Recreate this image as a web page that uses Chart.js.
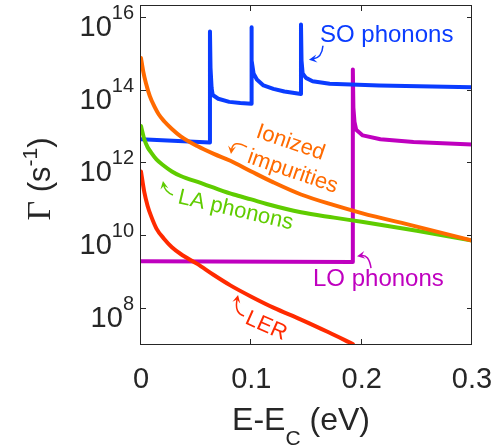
<!DOCTYPE html>
<html>
<head>
<meta charset="utf-8">
<script src="https://cdn.jsdelivr.net/npm/chart.js@4.4.1/dist/chart.umd.min.js"></script>
<style>
  html, body { margin: 0; padding: 0; background: #fff; }
</style>
</head>
<body>
<canvas id="chart-area" width="504" height="448"></canvas>
<script>
  // energy above the band edge, E - E_C (eV), and scattering rates (1/s)
  var impX = [0, 0.002, 0.0045, 0.008, 0.012, 0.016, 0.021, 0.028, 0.036, 0.051, 0.066, 0.081, 0.1, 0.12, 0.145, 0.175, 0.2, 0.25, 0.3];
  var impRate = [7.4e14, 3.2e14, 1.5e14, 6.6e13, 3.5e13, 2.1e13, 1.35e13, 8.3e12, 5.2e12, 2.8e12, 1.7e12, 1.1e12, 5.6e11, 2.8e11, 1.3e11, 6.6e10, 4.0e10, 1.7e10, 7.0e9];

  var laX = [0, 0.003, 0.006, 0.009, 0.014, 0.021, 0.028, 0.036, 0.054, 0.066, 0.084, 0.1, 0.114, 0.145, 0.175, 0.2, 0.25, 0.3];
  var laRate = [1.0e13, 4.3e12, 2.6e12, 1.9e12, 1.2e12, 7.9e11, 5.6e11, 4.2e11, 2.7e11, 2.0e11, 1.3e11, 9.5e10, 7.1e10, 4.2e10, 3.0e10, 2.3e10, 1.3e10, 7.0e9];

  var lerX = [0, 0.003, 0.006, 0.009, 0.014, 0.021, 0.028, 0.036, 0.051, 0.066, 0.081, 0.1, 0.12, 0.145, 0.17, 0.192];
  var lerRate = [5.6e11, 1.5e11, 6.3e10, 3.4e10, 1.5e10, 7.8e9, 4.6e9, 3.0e9, 1.6e9, 7.9e8, 4.1e8, 2.0e8, 1.0e8, 4.7e7, 2.1e7, 1.0e7];

  var soX = [0, 0.0625, 0.0625, 0.063, 0.064, 0.065, 0.07, 0.08, 0.09, 0.1, 0.1, 0.1005, 0.102, 0.105, 0.111, 0.12, 0.13, 0.145, 0.145, 0.1455, 0.1465, 0.1495, 0.1555, 0.171, 0.216, 0.3];
  var soRate = [4.3e12, 3.5e12, 4.0e15, 4.0e14, 1.1e14, 7.1e13, 5.6e13, 4.6e13, 4.3e13, 4.1e13, 5.2e15, 6.3e14, 2.8e14, 1.9e14, 1.3e14, 1.05e14, 8.9e13, 7.6e13, 6.2e15, 6.3e14, 2.8e14, 2.1e14, 1.7e14, 1.45e14, 1.3e14, 1.17e14];

  var loX = [0, 0.192, 0.192, 0.1925, 0.1935, 0.195, 0.201, 0.217, 0.247, 0.3];
  var loRate = [1.9e9, 1.8e9, 3.6e14, 3.2e13, 1.3e13, 7.9e12, 5.5e12, 4.3e12, 3.6e12, 3.1e12];

  var xTicks = [0, 0.1, 0.2, 0.3];
  var yTicks = [1e8, 1e10, 1e12, 1e14, 1e16];

  var colors = {
    so: '#0a3cff',
    imp: '#ff6a00',
    la: '#5fcc00',
    lo: '#bf00bf',
    ler: '#ff2a00',
    axis: '#262626'
  };

  // labels: anchor in data units, arrow given as pixel offsets from the anchor
  var notes = [
    { lines: ['SO phonons'], x: 0.1622, y: 2.08e15, rot: 0, size: 24, color: colors.so,
      arrow: [3, 4, 2, 16, -11, 18] },
    { lines: ['Ionized', 'impurities'], x: 0.1033, y: 4.97e12, rot: 19, size: 22, color: colors.imp,
      arrow: [-8, 10, -22, 2, -24, 17] },
    { lines: ['LA phonons'], x: 0.0326, y: 7.6e10, rot: 13, size: 22, color: colors.la,
      arrow: [-4, -8, -12, -11, -14, -22] },
    { lines: ['LO phonons'], x: 0.1559, y: 3.9e8, rot: 0, size: 24, color: colors.lo,
      arrow: [58, -18, 56, -32, 44, -30] },
    { lines: ['LER'], x: 0.0934, y: 3.8e7, rot: 24, size: 22, color: colors.ler,
      arrow: [0, -7, -10, -10, -6, -28] }
  ];

  var SANS = '"Liberation Sans", Arial, sans-serif';
  var SERIF = '"Liberation Serif", "Times New Roman", serif';

  function pts(xs, ys) {
    return xs.map(function (x, i) { return { x: x, y: ys[i] }; });
  }

  function line(label, xs, ys, color, smooth) {
    var ds = {
      label: label,
      data: pts(xs, ys),
      borderColor: color,
      backgroundColor: color,
      borderWidth: 4,
      pointRadius: 0,
      tension: 0,
      fill: false,
      borderJoinStyle: 'round',
      borderCapStyle: 'round'
    };
    if (smooth) {
      ds.cubicInterpolationMode = 'monotone';
    }
    return ds;
  }

  function drawArrow(ctx, x0, y0, cx, cy, x1, y1, color) {
    var ang = Math.atan2(y1 - cy, x1 - cx);
    var len = 8, half = 4;
    ctx.strokeStyle = color;
    ctx.fillStyle = color;
    ctx.lineWidth = 1.5;
    ctx.beginPath();
    ctx.moveTo(x0, y0);
    ctx.quadraticCurveTo(cx, cy, x1 - Math.cos(ang) * 4, y1 - Math.sin(ang) * 4);
    ctx.stroke();
    ctx.beginPath();
    ctx.moveTo(x1, y1);
    ctx.lineTo(x1 - Math.cos(ang) * len - Math.sin(ang) * half, y1 - Math.sin(ang) * len + Math.cos(ang) * half);
    ctx.lineTo(x1 - Math.cos(ang) * len * 0.6, y1 - Math.sin(ang) * len * 0.6);
    ctx.lineTo(x1 - Math.cos(ang) * len + Math.sin(ang) * half, y1 - Math.sin(ang) * len - Math.cos(ang) * half);
    ctx.closePath();
    ctx.fill();
  }

  // draw a run of text pieces (font, vertical shift) starting at x
  function drawRun(ctx, parts, x, y) {
    parts.forEach(function (p) {
      ctx.font = p.font;
      ctx.fillText(p.t, x, y + (p.dy || 0));
      x += ctx.measureText(p.t).width;
    });
  }

  function runWidth(ctx, parts) {
    var w = 0;
    parts.forEach(function (p) { ctx.font = p.font; w += ctx.measureText(p.t).width; });
    return w;
  }

  var framePlugin = {
    id: 'frame',
    afterDatasetsDraw: function (chart) {
      var ctx = chart.ctx, a = chart.chartArea;
      var xs = chart.scales.x, ys = chart.scales.y;
      ctx.save();
      ctx.strokeStyle = colors.axis;
      ctx.lineWidth = 1;
      ctx.strokeRect(a.left - 0.5, a.top - 0.5, a.right - a.left, a.bottom - a.top + 1);
      ctx.beginPath();
      xTicks.forEach(function (v) {
        var px = Math.round(xs.getPixelForValue(v)) - 0.5;
        ctx.moveTo(px, a.bottom); ctx.lineTo(px, a.bottom - 5);
        ctx.moveTo(px, a.top); ctx.lineTo(px, a.top + 5);
      });
      yTicks.forEach(function (v) {
        var py = Math.round(ys.getPixelForValue(v)) + 0.5;
        ctx.moveTo(a.left, py); ctx.lineTo(a.left + 5, py);
        ctx.moveTo(a.right, py); ctx.lineTo(a.right - 5, py);
      });
      ctx.stroke();
      ctx.restore();
    },
    afterDraw: function (chart) {
      var ctx = chart.ctx, a = chart.chartArea;
      var xs = chart.scales.x, ys = chart.scales.y;
      ctx.save();
      ctx.fillStyle = colors.axis;
      ctx.textBaseline = 'alphabetic';

      // x tick labels
      ctx.font = '29px ' + SANS;
      ctx.textAlign = 'center';
      xTicks.forEach(function (v) {
        ctx.fillText(String(v), xs.getPixelForValue(v), a.bottom + 44);
      });

      // y tick labels as 10^n
      ctx.textAlign = 'left';
      yTicks.forEach(function (v) {
        var py = ys.getPixelForValue(v);
        var ex = String(Math.round(Math.log10(v)));
        ctx.font = '20px ' + SANS;
        var ew = ctx.measureText(ex).width;
        var exLeft = a.left - 7 - ew;
        ctx.fillText(ex, exLeft, py + 2);
        ctx.font = '29px ' + SANS;
        var bw = ctx.measureText('10').width;
        ctx.fillText('10', exLeft - bw, py + 19);
      });

      // x title
      var xt = [
        { t: 'E-E', font: '32px ' + SANS },
        { t: 'C', font: '21px ' + SANS, dy: 15 },
        { t: ' (eV)', font: '32px ' + SANS }
      ];
      drawRun(ctx, xt, 301 - runWidth(ctx, xt) / 2, 430);

      // y title
      var yt = [
        { t: 'Γ', font: '34px ' + SERIF },
        { t: ' (s', font: '31px ' + SANS },
        { t: '-1', font: '21px ' + SANS, dy: -13 },
        { t: ')', font: '31px ' + SANS }
      ];
      ctx.save();
      ctx.translate(50, 179);
      ctx.rotate(-Math.PI / 2);
      drawRun(ctx, yt, -runWidth(ctx, yt) / 2, 0);
      ctx.restore();

      // curve labels
      notes.forEach(function (n) {
        var px = xs.getPixelForValue(n.x), py = ys.getPixelForValue(n.y);
        ctx.save();
        ctx.translate(px, py);
        var r = n.arrow;
        drawArrow(ctx, r[0], r[1], r[2], r[3], r[4], r[5], n.color);
        ctx.rotate(n.rot * Math.PI / 180);
        ctx.fillStyle = n.color;
        ctx.font = n.size + 'px ' + SANS;
        ctx.textAlign = 'left';
        n.lines.forEach(function (t, i) { ctx.fillText(t, 0, i * n.size * 1.22); });
        ctx.restore();
      });
      ctx.restore();
    }
  };

  var ctx = document.getElementById('chart-area').getContext('2d');
  window.rateChart = new Chart(ctx, {
    type: 'line',
    data: {
      datasets: [
        line('Ionized impurities', impX, impRate, colors.imp, true),
        line('LA phonons', laX, laRate, colors.la, true),
        line('LER', lerX, lerRate, colors.ler, true),
        line('SO phonons', soX, soRate, colors.so, false),
        line('LO phonons', loX, loRate, colors.lo, false)
      ]
    },
    options: {
      responsive: false,
      animation: false,
      layout: { padding: { top: 6, right: 32, left: 0, bottom: 0 } },
      plugins: { legend: { display: false }, tooltip: { enabled: false } },
      scales: {
        x: {
          type: 'linear',
          min: 0,
          max: 0.3,
          grid: { display: false },
          border: { display: false },
          ticks: { display: false, stepSize: 0.1 },
          afterFit: function (s) { s.height = 104; }
        },
        y: {
          type: 'logarithmic',
          min: 1e7,
          max: 2e16,
          grid: { display: false },
          border: { display: false },
          ticks: { display: false },
          afterFit: function (s) { s.width = 141; }
        }
      }
    },
    plugins: [framePlugin]
  });
</script>
</body>
</html>
